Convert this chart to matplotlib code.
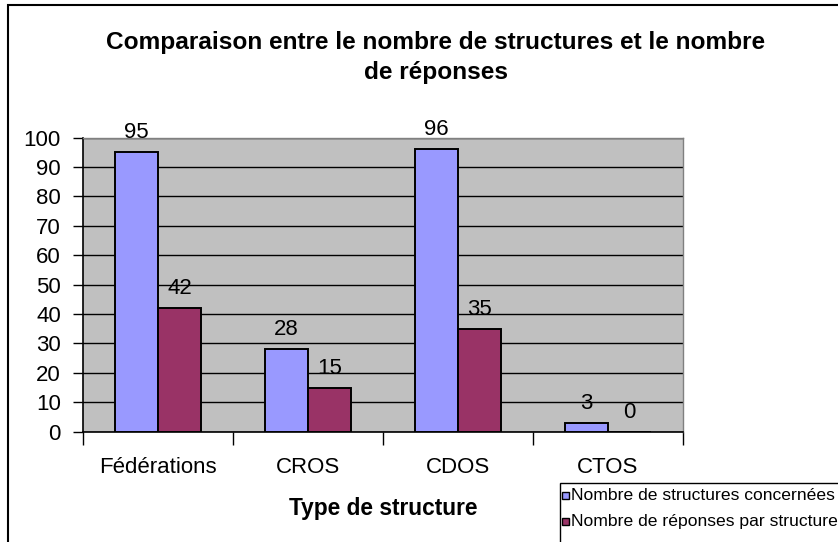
import matplotlib
matplotlib.use("Agg")
import matplotlib.pyplot as plt
from matplotlib.patches import Rectangle

plt.rcParams['font.family'] = ['Liberation Sans', 'DejaVu Sans']

categories = ["Fédérations", "CROS", "CDOS", "CTOS"]
structures = [95, 28, 96, 3]
reponses = [42, 15, 35, 0]
series_names = ["Nombre de structures concernées", "Nombre de réponses par structure"]
title_lines = ["Comparaison entre le nombre de structures et le nombre", "de réponses"]
xlabel = "Type de structure"
yticks = list(range(0, 101, 10))

W, H = 838, 542
fig = plt.figure(figsize=(W / 100, H / 100), dpi=100)
fig.patch.set_facecolor("white")

def fx(px):
    return px / W

def fy(py):
    return 1 - py / H

# chart area border (extends beyond right and bottom edges)
fig.add_artist(Rectangle((fx(8), fy(H + 20)), 1.2, fy(5) - fy(H + 20),
                         transform=fig.transFigure, fill=False,
                         edgecolor="black", linewidth=1.5))

left, right, top, bottom = 83, 683, 137.5, 431.7
ax = fig.add_axes([fx(left), fy(bottom), fx(right) - fx(left), fy(top) - fy(bottom)])
ax.set_facecolor("#C0C0C0")

bw = 0.287
xs = list(range(len(categories)))
b1 = ax.bar([x - bw / 2 for x in xs], structures, width=bw, color="#9999FF",
            edgecolor="black", linewidth=1.4, zorder=3)
b2 = ax.bar([x + bw / 2 for x in xs], reponses, width=bw, color="#993366",
            edgecolor="black", linewidth=1.4, zorder=3)

for bars, vals in ((b1, structures), (b2, reponses)):
    for rect, v in zip(bars, vals):
        ax.annotate(str(v), (rect.get_x() + rect.get_width() / 2, v),
                    xytext=(0, 10), textcoords="offset points",
                    ha="center", va="baseline", fontsize=16, zorder=4,
                    annotation_clip=False)

ax.set_xlim(-0.5, len(categories) - 0.5)
ax.set_ylim(0, 100)
ax.set_yticks(yticks)
ax.set_yticklabels([str(t) for t in yticks], fontsize=16)
ax.yaxis.grid(True, color="black", linewidth=1.0, zorder=1)
ax.set_axisbelow(True)

ax.set_xticks([x - 0.5 for x in range(len(categories) + 1)])
ax.set_xticklabels([])
ax.set_xticks(xs, minor=True)
ax.set_xticklabels(categories, minor=True, fontsize=16)
ax.tick_params(axis="x", which="major", direction="out", length=9, width=1, color="black")
ax.tick_params(axis="x", which="minor", length=0, pad=18)
ax.tick_params(axis="y", direction="out", length=7, width=1, pad=9, color="black")

for s in ("top", "right"):
    ax.spines[s].set_color("#808080")
    ax.spines[s].set_linewidth(1.0)
for s in ("left", "bottom"):
    ax.spines[s].set_color("black")
    ax.spines[s].set_linewidth(1.2)

# title
fig.text(fx(436), fy(48.5), title_lines[0], ha="center", va="baseline",
         fontsize=17.6, fontweight="bold")
fig.text(fx(436), fy(79), title_lines[1], ha="center", va="baseline",
         fontsize=17.6, fontweight="bold")

# axis title
fig.text(fx(383), fy(515), xlabel, ha="center", va="baseline",
         fontsize=16.4, fontweight="bold")

# legend (clipped by the figure edge like the reference)
fig.add_artist(Rectangle((fx(560), fy(H + 20)), 0.6, fy(482.7) - fy(H + 20),
                         transform=fig.transFigure, facecolor="white",
                         edgecolor="black", linewidth=1.0))
for i, (name, col) in enumerate(zip(series_names, ["#9999FF", "#993366"])):
    cy = 495 + i * 26.7
    fig.add_artist(Rectangle((fx(562), fy(cy + 3.5)), fx(7), fy(cy - 3.5) - fy(cy + 3.5),
                             transform=fig.transFigure, facecolor=col,
                             edgecolor="black", linewidth=1.0))
    fig.text(fx(571), fy(cy + 4.5), name, ha="left", va="baseline", fontsize=12.6)

fig.savefig("out.png", dpi=100)
